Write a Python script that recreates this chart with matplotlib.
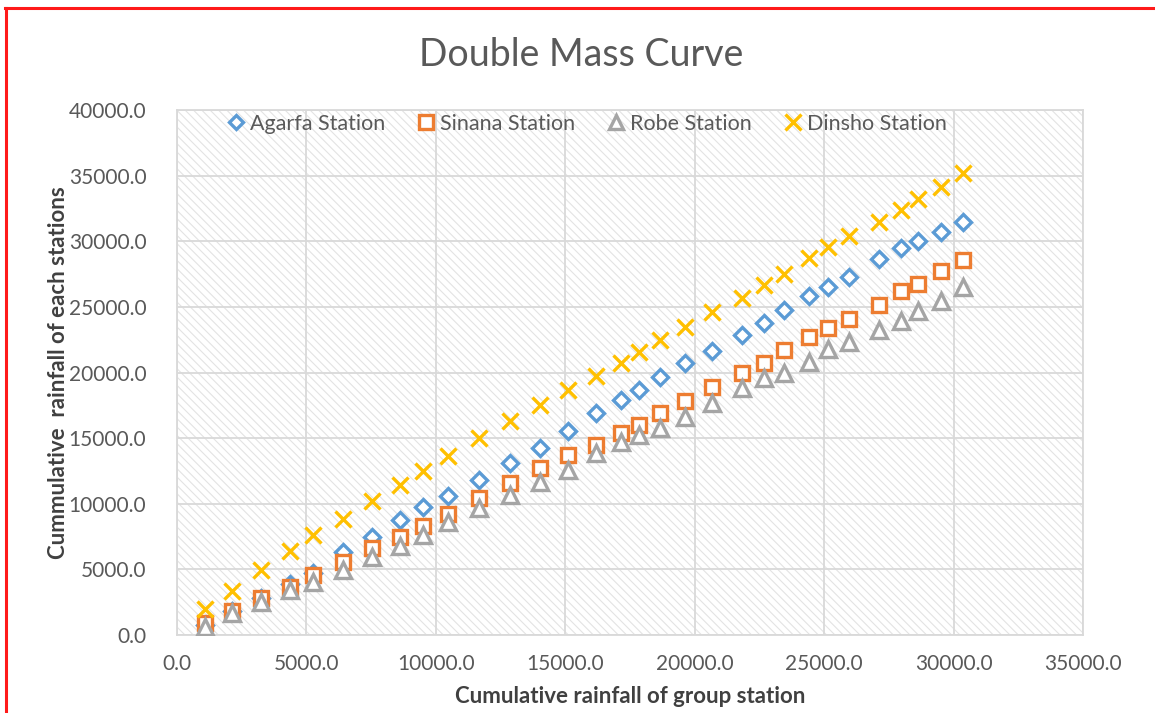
import numpy as np
import pandas as pd
from matplotlib import pyplot as plt
from matplotlib.lines import Line2D
from matplotlib.patches import Rectangle

# dados (chuva acumulada)
grupo = [1080, 2140, 3260, 4370, 5240, 6420, 7520, 8620, 9520, 10480,
         11680, 12860, 14020, 15090, 16190, 17140, 17850, 18660, 19620, 20660,
         21820, 22690, 23430, 24430, 25160, 25960, 27120, 27970, 28640, 29510, 30380]

agarfa = [760, 1830, 2820, 3890, 4730, 6340, 7470, 8800, 9730, 10560,
          11810, 13090, 14230, 15570, 16940, 17900, 18670, 19690, 20710, 21670,
          22870, 23800, 24770, 25800, 26500, 27260, 28660, 29520, 30030, 30740, 31460]

sinana = [890, 1830, 2800, 3680, 4570, 5590, 6610, 7430, 8290, 9190,
          10420, 11560, 12710, 13720, 14440, 15370, 16010, 16900, 17840, 18930,
          19990, 20760, 21720, 22690, 23380, 24060, 25150, 26180, 26730, 27770, 28580]

robe = [630, 1650, 2540, 3430, 4060, 4950, 5970, 6810, 7620, 8640,
        9660, 10670, 11690, 12580, 13850, 14730, 15240, 15800, 16640, 17660,
        18800, 19570, 19990, 20830, 21800, 22330, 23250, 23960, 24700, 25480, 26550]

dinsho = [1980, 3350, 4950, 6430, 7620, 8820, 10240, 11430, 12520, 13640,
          14990, 16310, 17530, 18670, 19740, 20710, 21550, 22490, 23500, 24600,
          25710, 26680, 27520, 28710, 29550, 30410, 31500, 32390, 33210, 34170, 35190]

df = pd.DataFrame({'grupo': grupo, 'Agarfa Station': agarfa, 'Sinana Station': sinana,
                   'Robe Station': robe, 'Dinsho Station': dinsho})

plt.rcParams['font.family'] = ['Lato', 'DejaVu Sans']
plt.rcParams['hatch.color'] = '#e3e3e3'
plt.rcParams['hatch.linewidth'] = 0.8

fig = plt.figure(figsize=(11.55, 7.13), dpi=100)
ax = fig.add_axes([0.1532, 0.1094, 0.7845, 0.7363])

# fundo hachurado da area do grafico
ax.add_patch(Rectangle((0, 0), 1, 1, transform=ax.transAxes, facecolor='white',
                       hatch='\\\\\\\\', edgecolor='#e3e3e3', linewidth=0, zorder=0))

estilos = {
    'Agarfa Station': dict(marker='D', color='#5B9BD5', ms=8),
    'Sinana Station': dict(marker='s', color='#ED7D31', ms=10.5),
    'Robe Station': dict(marker='^', color='#A5A5A5', ms=11),
    'Dinsho Station': dict(marker='x', color='#FFC000', ms=11.5),
}

for nome, est in estilos.items():
    ax.plot(df['grupo'], df[nome], linestyle='none', marker=est['marker'],
            markersize=est['ms'], markeredgecolor=est['color'], markerfacecolor='white',
            markeredgewidth=2.4, label=nome, zorder=3)

ax.set_xlim(0, 35000)
ax.set_ylim(0, 40000)
ax.set_xticks(np.arange(0, 35001, 5000))
ax.set_yticks(np.arange(0, 40001, 5000))
ax.xaxis.set_major_formatter(plt.FuncFormatter(lambda v, p: f'{v:.1f}'))
ax.yaxis.set_major_formatter(plt.FuncFormatter(lambda v, p: f'{v:.1f}'))
ax.tick_params(length=0, labelsize=15, labelcolor='#595959')
ax.tick_params(axis='x', pad=14)
ax.tick_params(axis='y', pad=22)
ax.grid(color='#d9d9d9', linewidth=1.3, zorder=1)
ax.set_axisbelow(True)
for s in ax.spines.values():
    s.set_color('#d9d9d9')
    s.set_linewidth(1.3)

ax.set_xlabel('Cumulative rainfall of group station', fontsize=16, fontweight='bold',
              color='#404040', labelpad=8)
ax.set_ylabel('Cummulative  rainfall of each stations', fontsize=16, fontweight='bold',
              color='#404040', labelpad=0)
fig.text(0.503, 0.923, 'Double Mass Curve', fontsize=27, color='#595959',
         ha='center', va='center')

ax.legend(loc='upper center', bbox_to_anchor=(0.45, 1.03), ncol=4, frameon=False,
          fontsize=15.5, labelcolor='#595959', handletextpad=0.05, columnspacing=1.3,
          handlelength=1.2, markerscale=0.95)

# borda vermelha (so em cima e na esquerda)
fig.add_artist(Line2D([5 / 1155, 1], [1 - 8 / 713, 1 - 8 / 713], color='#ff1a1a', linewidth=2.2))
fig.add_artist(Line2D([6 / 1155, 6 / 1155], [0, 1 - 8 / 713], color='#ff1a1a', linewidth=2.2))

plt.savefig('out.png', dpi=100)
